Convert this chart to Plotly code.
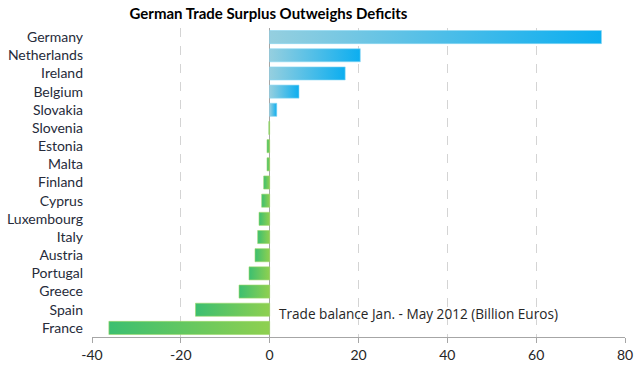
import plotly.graph_objects as go

countries = ["Germany", "Netherlands", "Ireland", "Belgium", "Slovakia", "Slovenia",
             "Estonia", "Malta", "Finland", "Cyprus", "Luxembourg", "Italy", "Austria",
             "Portugal", "Greece", "Spain", "France"]
balance = [74.7, 20.4, 17.0, 6.6, 1.6, -0.2, -0.6, -0.6, -1.35, -1.8, -2.4, -2.7,
           -3.3, -4.65, -6.9, -16.7, -36.2]
x_ticks = [-40, -20, 0, 20, 40, 60, 80]
x_tick_text = ["-40", "-20", "0", "20", "40", "60", "80"]

title_text = "German Trade Surplus Outweighs Deficits"
note_text = "Trade balance Jan. - May 2012 (Billion Euros)"

pos_scale = [[0, "#95cfdf"], [1, "#0caef0"]]
neg_scale = [[0, "#3cbf70"], [1, "#8fd050"]]
half = 0.36

fig = go.Figure()
for i, (c, v) in enumerate(zip(countries, balance)):
    xs = [0, v, v, 0, 0]
    ys = [i - half, i - half, i + half, i + half, i - half]
    pos = v >= 0
    fig.add_trace(go.Scatter(
        x=xs, y=ys, mode="lines", fill="toself",
        fillgradient=dict(type="horizontal", colorscale=pos_scale if pos else neg_scale),
        line=dict(width=0.6, color="#8ad6f3" if pos else "#9fd86a"),
        hoverinfo="skip", showlegend=False, name=c,
    ))

fig.add_annotation(x=1.6, y=len(countries) - 1.8, xref="x", yref="y",
                   text=note_text, showarrow=False, xanchor="left", yanchor="middle",
                   font=dict(family="Open Sans, Lato, sans-serif", size=13.6, color="#262626"))

fig.update_layout(
    width=640, height=365,
    margin=dict(l=92, r=15, t=28, b=28),
    paper_bgcolor="white", plot_bgcolor="white",
    title=dict(text="<b>" + title_text + "</b>", x=268.5 / 640, xanchor="center",
               y=1 - 13.5 / 365, yanchor="middle",
               font=dict(family="Lato, Open Sans, sans-serif", size=15, color="#000000")),
    font=dict(family="Lato, Open Sans, sans-serif", size=14, color="#262626"),
    xaxis=dict(range=[-40, 80], tickvals=x_ticks, ticktext=x_tick_text, automargin=False,
               showgrid=True, gridcolor="#d4d4d4",
               griddash="dash", gridwidth=1, zeroline=True, zerolinecolor="#a6a6a6",
               zerolinewidth=1, showline=True, linecolor="#a6a6a6", linewidth=1,
               ticks="outside", ticklen=5, tickcolor="#a6a6a6",
               tickfont=dict(size=14, color="#262626")),
    yaxis=dict(range=[len(countries) - 0.5, -0.5], tickvals=list(range(len(countries))),
               ticktext=countries, automargin=False, showgrid=False, zeroline=False,
               showline=False, ticks="", ticklabelstandoff=8,
               tickfont=dict(size=14, color="#262b3a")),
)

fig.write_html("out.html", config={"displayModeBar": False},
               post_script="document.body.style.margin='0px';"
                           "document.body.style.overflow='hidden';")
